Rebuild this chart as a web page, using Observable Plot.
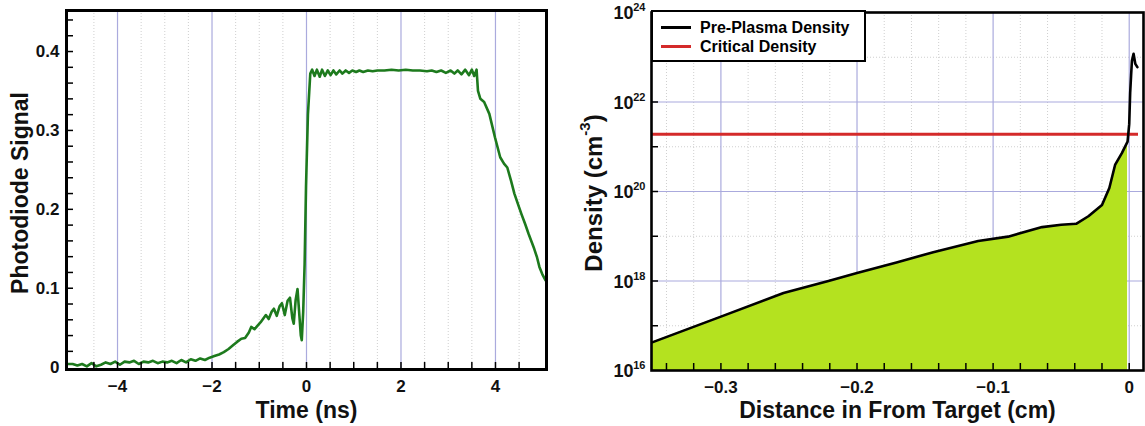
<!DOCTYPE html>
<html><head><meta charset="utf-8">
<script src="https://cdn.jsdelivr.net/npm/d3@7"></script>
<script src="https://cdn.jsdelivr.net/npm/@observablehq/plot@0.6"></script>
<style>
body{margin:0;background:#fff;font-family:"Liberation Sans",Arial,sans-serif;}
#wrap{position:relative;width:1145px;height:426px;overflow:hidden;}
#left{position:absolute;left:0;top:0;}
#right{position:absolute;left:560px;top:0;}
#legend{position:absolute;left:651px;top:10px;width:215px;height:52px;border:2.5px solid #000;background:#fff;box-sizing:border-box;font-weight:bold;font-size:16px;}
.row{position:absolute;left:0;height:19px;width:100%;}
.row .ln{position:absolute;left:8px;top:8px;width:30px;height:3px;}
.row .tx{position:absolute;left:47px;top:0;line-height:19px;white-space:nowrap;color:#000;}
</style></head>
<body><div id="wrap"><div id="left"></div><div id="right"></div><div id="legend"></div></div>
<script>
// ---- Left panel data: photodiode signal vs time (ns)
const times = [-5.07,-4.95,-4.85,-4.75,-4.65,-4.55,-4.45,-4.35,-4.25,-4.15,-4.05,-3.95,-3.85,-3.75,-3.65,-3.55,-3.45,-3.35,-3.25,-3.15,-3.05,-2.95,-2.85,-2.75,-2.65,-2.55,-2.45,-2.35,-2.25,-2.15,-2.05,-1.95,-1.85,-1.75,-1.65,-1.55,-1.47,-1.38,-1.30,-1.22,-1.17,-1.10,-1.03,-0.97,-0.91,-0.86,-0.80,-0.74,-0.69,-0.63,-0.57,-0.52,-0.46,-0.40,-0.35,-0.30,-0.27,-0.23,-0.19,-0.15,-0.12,-0.10,-0.07,-0.04,-0.01,0.03,0.08,0.12,0.17,0.22,0.28,0.33,0.39,0.45,0.51,0.57,0.63,0.70,0.76,0.83,0.90,0.97,1.05,1.12,1.20,1.30,1.40,1.50,1.65,1.80,1.95,2.10,2.25,2.40,2.55,2.65,2.75,2.85,2.95,3.05,3.13,3.20,3.28,3.36,3.44,3.50,3.55,3.60,3.63,3.68,3.76,3.87,3.99,4.10,4.18,4.25,4.33,4.40,4.48,4.55,4.63,4.70,4.77,4.82,4.88,4.93,4.99,5.06];
const signal = [0.004,0.004,0.002,0.004,0.001,0.005,0.001,0.003,0.006,0.004,0.007,0.003,0.007,0.006,0.008,0.004,0.007,0.006,0.008,0.005,0.007,0.006,0.008,0.005,0.009,0.006,0.010,0.008,0.011,0.009,0.012,0.014,0.016,0.019,0.023,0.028,0.032,0.036,0.037,0.044,0.051,0.048,0.053,0.057,0.062,0.066,0.061,0.070,0.074,0.065,0.077,0.081,0.066,0.084,0.088,0.062,0.055,0.085,0.099,0.065,0.040,0.034,0.070,0.130,0.230,0.320,0.372,0.377,0.369,0.377,0.368,0.377,0.369,0.376,0.370,0.376,0.371,0.376,0.372,0.376,0.373,0.376,0.374,0.376,0.374,0.376,0.375,0.376,0.376,0.377,0.376,0.377,0.376,0.376,0.375,0.376,0.374,0.376,0.373,0.376,0.372,0.376,0.371,0.377,0.370,0.377,0.369,0.377,0.350,0.340,0.336,0.321,0.291,0.266,0.258,0.253,0.236,0.220,0.206,0.194,0.181,0.169,0.158,0.150,0.139,0.127,0.118,0.110];
const timeTicks = [-4,-2,0,2,4];
const timeMinor = [-4.5,-3.5,-3,-2.5,-1.5,-1,-0.5,0.5,1,1.5,2.5,3,3.5,4.5];
const timeTickMarks = [-4.5,-4,-3.5,-3,-2.5,-2,-1.5,-1,-0.5,0,0.5,1,1.5,2,2.5,3,3.5,4,4.5];
const signalTicks = [0,0.1,0.2,0.3,0.4];
const signalTickMarks = [0.02,0.04,0.06,0.08,0.1,0.12,0.14,0.16,0.18,0.2,0.22,0.24,0.26,0.28,0.3,0.32,0.34,0.36,0.38,0.4,0.42,0.44];

// ---- Right panel data: pre-plasma density vs distance (cm)
const distance = [-0.351,-0.300,-0.254,-0.221,-0.200,-0.171,-0.144,-0.111,-0.089,-0.064,-0.050,-0.039,-0.030,-0.020,-0.0146,-0.0103,-0.0054,-0.0012,0.0000,0.0007,0.0014,0.0020,0.0032,0.0045,0.0060];
const density = [4.2e16,1.6e17,5.4e17,1.0e18,1.5e18,2.6e18,4.4e18,7.8e18,9.8e18,1.6e19,1.8e19,1.9e19,2.8e19,5.0e19,1.2e20,4.0e20,7.2e20,1.3e21,3.2e21,1.6e22,4.0e22,8.3e22,1.2e23,7.1e22,6.0e22];
const criticalDensity = 1.9e21;
const distTicks = [-0.3,-0.2,-0.1,0];
const distMinor = [-0.34,-0.32,-0.28,-0.26,-0.24,-0.22,-0.18,-0.16,-0.14,-0.12,-0.08,-0.06,-0.04,-0.02];
const distTickMarks = [-0.34,-0.32,-0.3,-0.28,-0.26,-0.24,-0.22,-0.2,-0.18,-0.16,-0.14,-0.12,-0.1,-0.08,-0.06,-0.04,-0.02,0];
const densTicks = [1e16,1e18,1e20,1e22,1e24];
const densExps = ["16","18","20","22","24"];
const densMinor = [1e17,1e19,1e21,1e23];
const densTickMarks = [1e17,1e18,1e19,1e20,1e21,1e22,1e23];
const legendLabels = ["Pre-Plasma Density","Critical Density"];
const legendColors = ["#000000","#d42a2a"];

const FONT = "'Liberation Sans', Arial, Helvetica, sans-serif";
const GRID = "#aaaadd";
const MINOR = "#cfcfcf";

// ---------- Left chart
const L = {w:560,h:426,ml:66,mr:14,mt:10,mb:57};
const sigData = times.map((t,i)=>({t, s: signal[i]}));
const left = Plot.plot({
  width:L.w, height:L.h, marginLeft:L.ml, marginRight:L.mr, marginTop:L.mt, marginBottom:L.mb,
  x:{domain:[-5.08,5.08], axis:null}, y:{domain:[-0.003,0.452], axis:null},
  style:{fontFamily:FONT, fontWeight:"bold", background:"white", overflow:"visible", color:"#111"},
  marks:[
    Plot.ruleX(timeMinor, {x:d=>d, stroke:MINOR, strokeDasharray:"1,2"}),
    Plot.ruleX(timeTicks, {x:d=>d, stroke:GRID, strokeWidth:1.2}),
    Plot.line(sigData, {x:"t", y:"s", stroke:"#1d7a1d", strokeWidth:2.6, curve:"linear"}),
    Plot.tickX(timeTickMarks, {x:d=>d, insetTop:(L.h-L.mt-L.mb)-7, stroke:"#000", strokeWidth:1.5}),
    Plot.tickY(signalTickMarks, {y:d=>d, insetRight:(L.w-L.ml-L.mr)-7, stroke:"#000", strokeWidth:1.5}),
    Plot.frame({stroke:"#000", strokeWidth:3}),
    Plot.axisX(timeTicks, {tickSize:0, tickPadding:10, fontSize:17, fontWeight:"bold", label:null, tickFormat:d=> d===0?"0":(d<0?"\u2212"+Math.abs(d):String(d))}),
    Plot.axisY(signalTicks, {tickSize:0, tickPadding:7, fontSize:17, fontWeight:"bold", label:null, tickFormat:d=> d===0?"0":d.toFixed(1)}),
    Plot.text(["Time (ns)"], {frameAnchor:"bottom", lineAnchor:"bottom", text:d=>d, dy:48, fontSize:23, fontWeight:"bold"}),
    Plot.text(["Photodiode Signal"], {frameAnchor:"left", textAnchor:"middle", lineAnchor:"middle", text:d=>d, rotate:-90, dx:-46, dy:3, fontSize:23, fontWeight:"bold"})
  ]
});
document.getElementById("left").appendChild(left);

// ---------- Right chart
const R = {w:585,h:426,ml:91,mr:2,mt:12,mb:56};
const densData = distance.map((d,i)=>({d, n: density[i]}));
const fillData = densData.filter(p=>p.d<0);
const right = Plot.plot({
  width:R.w, height:R.h, marginLeft:R.ml, marginRight:R.mr, marginTop:R.mt, marginBottom:R.mb,
  x:{domain:[-0.351,0.0105], axis:null}, y:{type:"log", domain:[1e16,1e24], axis:null},
  style:{fontFamily:FONT, fontWeight:"bold", background:"white", overflow:"visible", color:"#111"},
  marks:[
    Plot.ruleX(distMinor, {x:d=>d, stroke:MINOR, strokeDasharray:"1,2"}),
    Plot.ruleY(densMinor, {y:d=>d, stroke:MINOR, strokeDasharray:"1,2"}),
    Plot.ruleX(distTicks, {x:d=>d, stroke:GRID, strokeWidth:1.2}),
    Plot.ruleY(densTicks, {y:d=>d, stroke:GRID, strokeWidth:1.2}),
    Plot.areaY(fillData, {x:"d", y1:()=>1e16, y2:"n", fill:"#b4e21f", clip:true}),
    Plot.ruleY([criticalDensity], {y:d=>d, stroke:"#d42a2a", strokeWidth:3, insetRight:5}),
    Plot.line(densData, {x:"d", y:"n", stroke:"#000", strokeWidth:2.6, clip:true}),
    Plot.tickX(distTickMarks, {x:d=>d, insetTop:(R.h-R.mt-R.mb)-7, stroke:"#000", strokeWidth:1.5}),
    Plot.tickY(densTickMarks, {y:d=>d, insetRight:(R.w-R.ml-R.mr)-7, stroke:"#000", strokeWidth:1.5}),
    Plot.frame({stroke:"#000", strokeWidth:2.6}),
    Plot.axisX(distTicks, {tickSize:0, tickPadding:10, fontSize:17, fontWeight:"bold", label:null, tickFormat:d=> d===0?"0":"\u2212"+Math.abs(d).toFixed(1)}),
    Plot.text(densTicks, {y:d=>d, frameAnchor:"left", lineAnchor:"middle", text:()=>"10", textAnchor:"end", dx:-18, dy:1, fontSize:18, fontWeight:"bold"}),
    Plot.text(densTicks, {y:d=>d, frameAnchor:"left", lineAnchor:"middle", text:(d,i)=>densExps[i], textAnchor:"end", dx:-6, dy:-5, fontSize:11, fontWeight:"bold"}),
    Plot.text(["Distance in From Target (cm)"], {frameAnchor:"bottom", lineAnchor:"bottom", text:d=>d, dy:47, fontSize:23, fontWeight:"bold"})
  ]
});
document.getElementById("right").appendChild(right);

// y label with superscript
const yl = d3.select(right).append("text")
  .attr("transform", `translate(36,${R.mt + (R.h-R.mt-R.mb)/2 + 2}) rotate(-90)`)
  .attr("text-anchor","middle").attr("dominant-baseline","middle")
  .attr("font-family", FONT).attr("font-weight","bold").attr("font-size",24).attr("fill","#111");
yl.append("tspan").text("Density (cm");
yl.append("tspan").attr("font-size",15).attr("dy",-10).text("-3");
yl.append("tspan").attr("dy",10).text(")");

// legend
const lg = d3.select("#legend");
legendLabels.forEach((lab,i)=>{
  const row = lg.append("div").attr("class","row").style("top",(6+i*19)+"px");
  row.append("div").attr("class","ln").style("background",legendColors[i]);
  row.append("div").attr("class","tx").text(lab);
});
</script>
</body></html>
